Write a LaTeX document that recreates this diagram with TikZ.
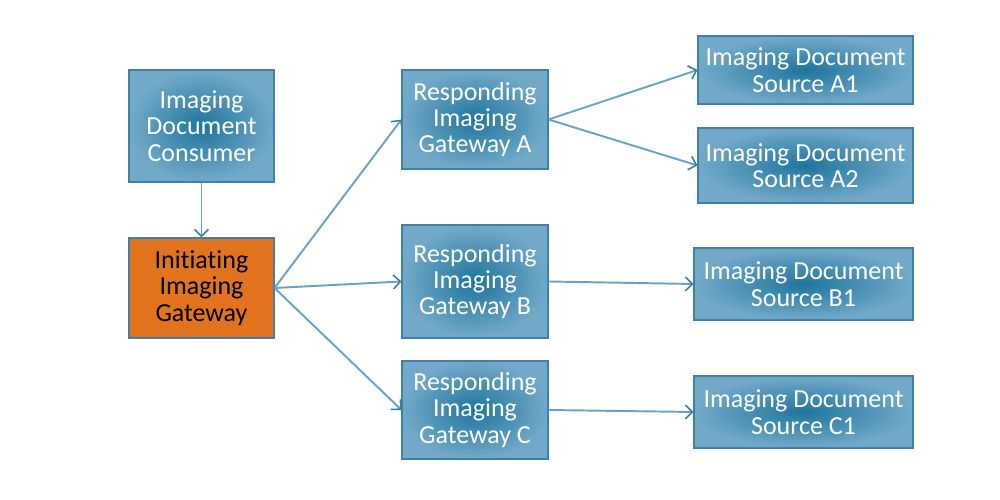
\documentclass[tikz,border=0pt]{standalone}
\usepackage{fontspec}
\setmainfont{Carlito}[Ligatures=NoCommon]
\usetikzlibrary{arrows.meta, positioning}
\definecolor{boxblue}{HTML}{1F759E}
\definecolor{boxedge}{HTML}{72A9C8}
\definecolor{boxline}{HTML}{3F81A5}
\definecolor{linkblue}{HTML}{6AA3C2}
\definecolor{tipblue}{HTML}{3A7EA3}
\definecolor{initorange}{HTML}{E2741F}
\tikzset{
    gatewaydiagram/.style={font=\fontsize{14.8}{15}\selectfont},
    actor/.style={draw=boxline, line width=0.6pt, inner color=boxblue, outer color=boxedge,
        text=white, align=center, inner sep=0pt},
    initiator/.style={draw=boxline, line width=0.6pt, fill=initorange, text=black,
        align=center, inner sep=0pt},
    link/.style={draw=linkblue, line width=1.1pt,
        -{Straight Barb[length=4pt, width=8pt, line width=0.9pt, color=tipblue]}},
}

\begin{document}
\begin{tikzpicture}[gatewaydiagram]
        \useasboundingbox (0,0) rectangle (20,10);
        \node[actor, minimum width=2.9cm, minimum height=2.24cm]    (cons) at (4.03,7.48) {Imaging\\Document\\Consumer};
        \node[initiator, minimum width=2.9cm, minimum height=2.0cm] (init) at (4.03,4.24) {Initiating\\Imaging\\Gateway};

        \node[actor, minimum width=2.92cm, minimum height=1.98cm]   (rgA)  at (9.5,7.61)  {Responding\\Imaging\\Gateway A};
        \node[actor, minimum width=2.92cm, minimum height=2.26cm]   (rgB)  at (9.5,4.37)  {Responding\\Imaging\\Gateway B};
        \node[actor, minimum width=2.92cm, minimum height=1.96cm]   (rgC)  at (9.5,1.80)  {Responding\\Imaging\\Gateway C};

        \node[actor, minimum width=4.3cm, minimum height=1.36cm]    (srcA1) at (16.11,8.60) {Imaging Document\\Source A1};
        \node[actor, minimum width=4.3cm, minimum height=1.5cm]     (srcA2) at (16.11,6.69) {Imaging Document\\Source A2};
        \node[actor, minimum width=4.38cm, minimum height=1.44cm]   (srcB1) at (16.07,4.32) {Imaging Document\\Source B1};
        \node[actor, minimum width=4.38cm, minimum height=1.44cm]   (srcC1) at (16.07,1.76) {Imaging Document\\Source C1};

        \draw[link] (cons) -- (init);

        % initiating gateway fans out
        \draw[link] (init.east) -- (rgA.west);
        \draw[link] (init.east) -- (rgB.west);
        \draw[link] (init.east) -- (rgC.west);

        % responding gateways to their sources
        \draw[link] (rgA.east) -- (srcA1.west);
        \draw[link] (rgA.east) -- (srcA2.west);
        \draw[link] (rgB.east) -- (srcB1.west);
        \draw[link] (rgC.east) -- (srcC1.west);
    \end{tikzpicture}
\end{document}
